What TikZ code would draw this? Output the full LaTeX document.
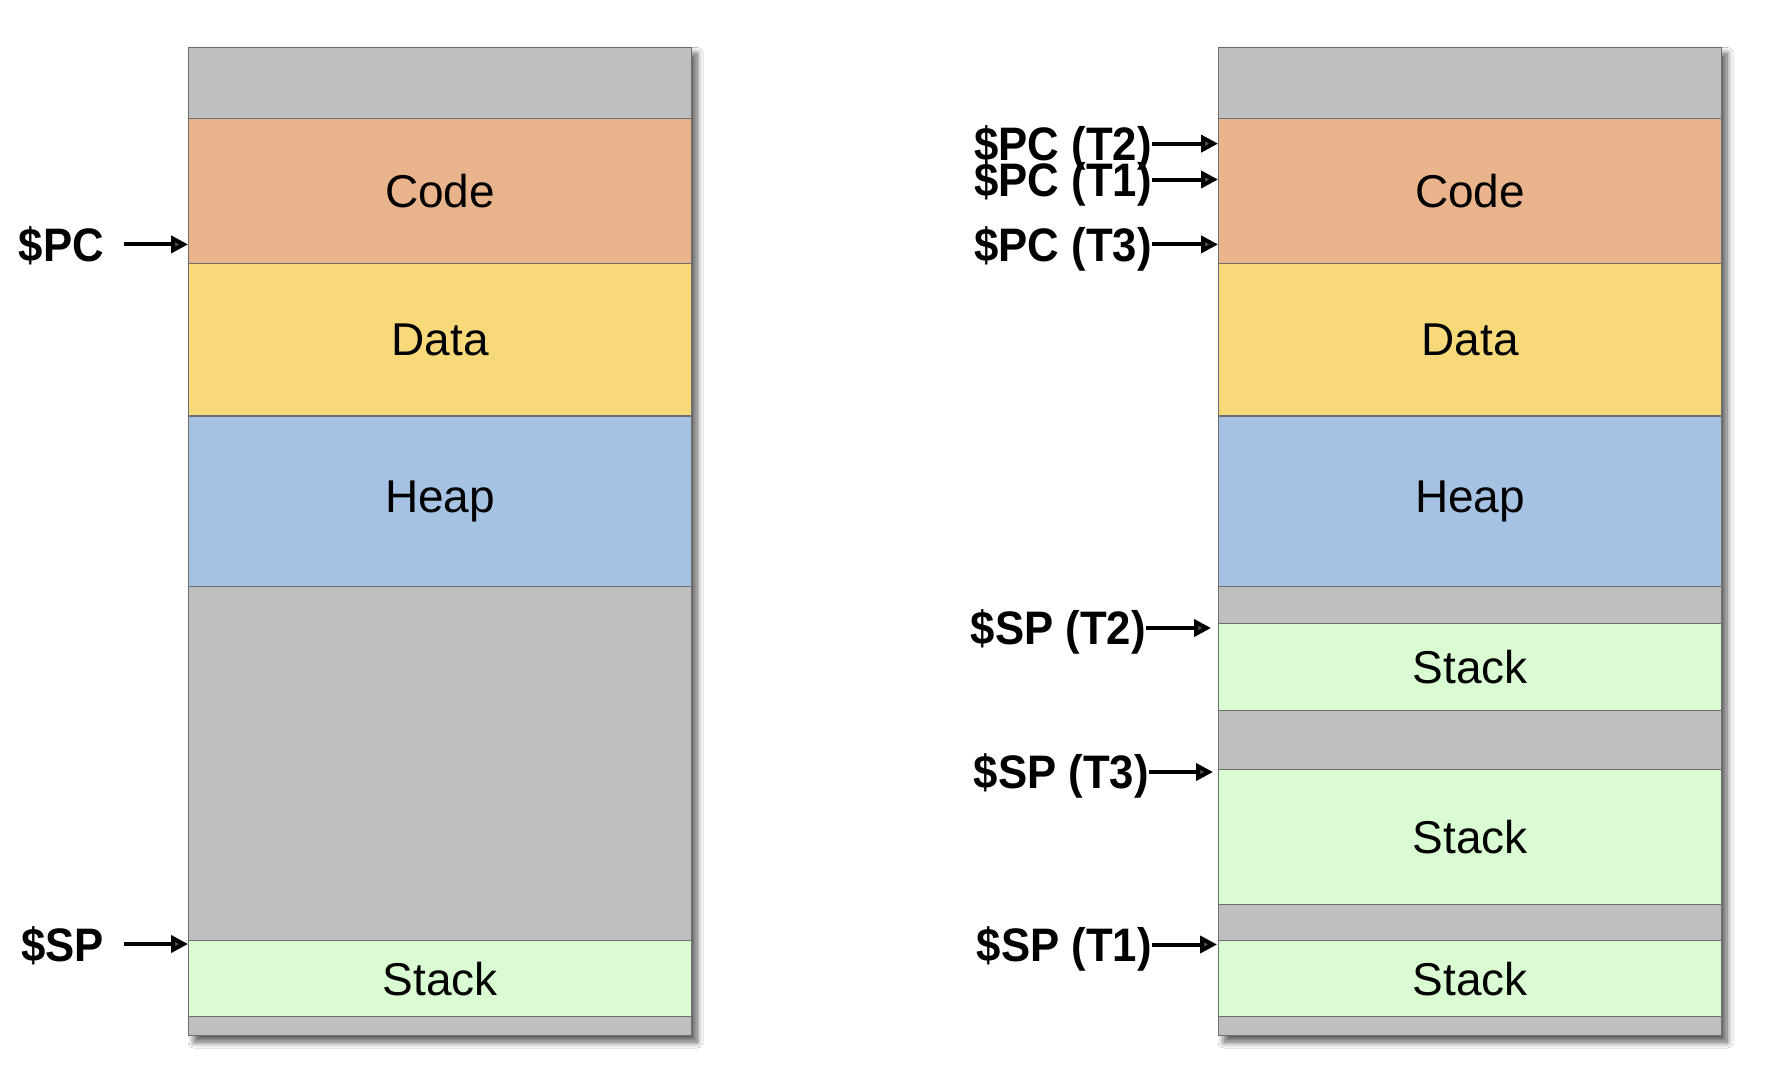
\documentclass[tikz,border=0pt]{standalone}
\usepackage{fontspec}
\setmainfont{Liberation Sans}
\newfontfamily\lblfont[FakeStretch=0.93]{Liberation Sans}
\usetikzlibrary{arrows.meta,shadows.blur}
\definecolor{freec}{HTML}{BFBFBF}
\definecolor{codec}{HTML}{E9B48B}
\definecolor{datac}{HTML}{F7D979}
\definecolor{heapc}{HTML}{A6C2E3}
\definecolor{stackc}{HTML}{D9FCD3}
\definecolor{edgec}{HTML}{6E6E6E}
\begin{document}
\begin{tikzpicture}[x=1pt,y=-1pt,
  band/.style={draw=edgec,line width=1.1pt,minimum width=503pt,inner sep=0pt,
    anchor=north west,font=\fontsize{46}{50}\selectfont},
  ptr/.style={inner sep=0pt,anchor=base east,font=\lblfont\bfseries\fontsize{47}{50}\selectfont},
  ptrarrow/.style={line width=4pt,-{Triangle[length=17pt,width=17pt]}},
  colshadow/.style={fill=white,blur shadow={shadow xshift=6pt,shadow yshift=-7pt,shadow blur steps=14,shadow blur radius=6pt,shadow opacity=65}}]
\useasboundingbox (0,0) rectangle (1768,1072);
\fill[white] (0,0) rectangle (1768,1072);
% ---- left column ----
\fill[colshadow] (188,46.5) rectangle (691,1035);
\node[band,fill=freec,minimum height=71.5pt] (lg1) at (188,46.5) {};
\node[band,fill=codec,minimum height=144.6pt] (lcode) at (188,118) {Code};
\node[band,fill=datac,minimum height=152.8pt] (ldata) at (188,262.6) {Data};
\node[band,fill=heapc,minimum height=170.6pt] (lheap) at (188,415.4) {Heap};
\node[band,fill=freec,minimum height=354pt] (lg2) at (188,586) {};
\node[band,fill=stackc,minimum height=76pt] (lstack) at (188,940) {Stack};
\node[band,fill=freec,minimum height=19pt] (lg3) at (188,1016) {};
% ---- right column ----
\fill[colshadow] (1218,46.5) rectangle (1721,1035);
\node[band,fill=freec,minimum height=71.5pt] (rg1) at (1218,46.5) {};
\node[band,fill=codec,minimum height=144.6pt] (rcode) at (1218,118) {Code};
\node[band,fill=datac,minimum height=152.8pt] (rdata) at (1218,262.6) {Data};
\node[band,fill=heapc,minimum height=170.6pt] (rheap) at (1218,415.4) {Heap};
\node[band,fill=freec,minimum height=37pt] (rg2) at (1218,586) {};
\node[band,fill=stackc,minimum height=87pt] (rstack1) at (1218,623) {Stack};
\node[band,fill=freec,minimum height=58.5pt] (rg3) at (1218,710) {};
\node[band,fill=stackc,minimum height=135pt] (rstack2) at (1218,768.5) {Stack};
\node[band,fill=freec,minimum height=36.5pt] (rg4) at (1218,903.5) {};
\node[band,fill=stackc,minimum height=76pt] (rstack3) at (1218,940) {Stack};
\node[band,fill=freec,minimum height=19pt] (rg5) at (1218,1016) {};
% ---- left pointers ----
\node[ptr] (pc) at (104,261) {\$PC};
\coordinate (pctip) at (188,244.4);
\draw[ptrarrow] ([xshift=20pt]pc.east |- pctip) -- (pctip);
\node[ptr] (sp) at (104,961) {\$SP};
\coordinate (sptip) at (188,944);
\draw[ptrarrow] ([xshift=20pt]sp.east |- sptip) -- (sptip);
% ---- right pointers ----
\node[ptr] (pct2) at (1152,160.4) {\$PC (T2)};
\coordinate (pct2tip) at (1218,143.6);
\draw[ptrarrow] (pct2.east |- pct2tip) -- (pct2tip);
\node[ptr] (pct1) at (1152,196.3) {\$PC (T1)};
\coordinate (pct1tip) at (1218,179.5);
\draw[ptrarrow] (pct1.east |- pct1tip) -- (pct1tip);
\node[ptr] (pct3) at (1152,261) {\$PC (T3)};
\coordinate (pct3tip) at (1218,244.4);
\draw[ptrarrow] (pct3.east |- pct3tip) -- (pct3tip);
\node[ptr] (spt2) at (1146,644.8) {\$SP (T2)};
\coordinate (spt2tip) at (1211,628);
\draw[ptrarrow] (spt2.east |- spt2tip) -- (spt2tip);
\node[ptr] (spt3) at (1149,788.8) {\$SP (T3)};
\coordinate (spt3tip) at (1213,772);
\draw[ptrarrow] (spt3.east |- spt3tip) -- (spt3tip);
\node[ptr] (spt1) at (1152,961.3) {\$SP (T1)};
\coordinate (spt1tip) at (1217,944.5);
\draw[ptrarrow] (spt1.east |- spt1tip) -- (spt1tip);
\end{tikzpicture}
\end{document}
